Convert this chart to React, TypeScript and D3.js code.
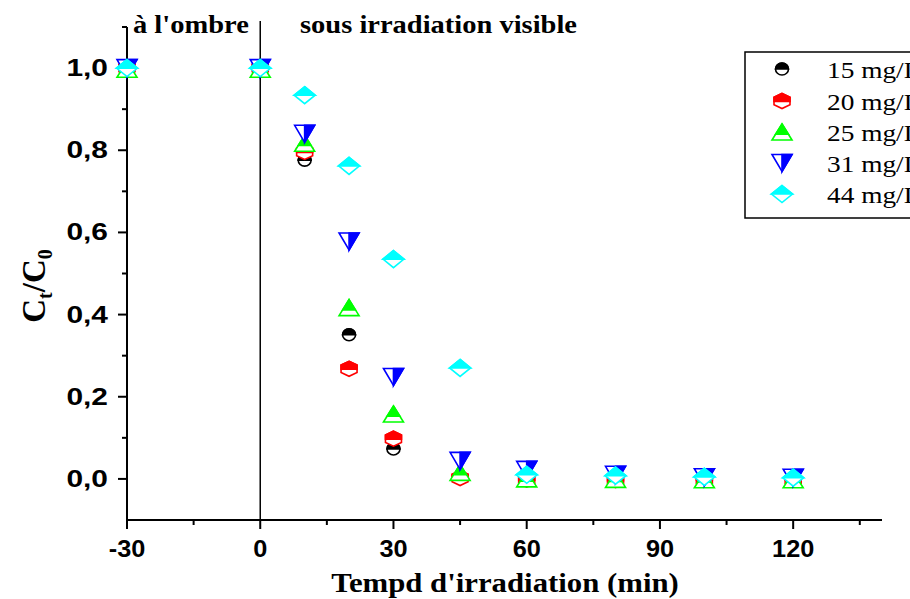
import React from "react";
import * as d3 from "d3";

const times = [-30, 0, 10, 20, 30, 45, 60, 80, 100, 120];
const c15 = [1.0, 1.0, 0.776, 0.351, 0.073, 0.004, 0.0, 0.0, 0.0, 0.0];
const c20 = [1.0, 1.0, 0.796, 0.268, 0.098, 0.002, -0.002, -0.003, -0.002, -0.002];
const c25 = [0.997, 0.997, 0.817, 0.417, 0.158, 0.016, 0.0, -0.001, -0.002, -0.002];
const c31 = [1.0, 1.0, 0.84, 0.578, 0.248, 0.044, 0.022, 0.01, 0.004, 0.003];
const c44 = [1.0, 1.0, 0.934, 0.762, 0.535, 0.27, 0.01, 0.008, 0.005, 0.003];
const seriesNames = ["15 mg/L", "20 mg/L", "25 mg/L", "31 mg/L", "44 mg/L"];
const seriesColors = ["#000000", "#ff0000", "#00ff00", "#0000ff", "#00ffff"];
const seriesShapes = ["circle", "hexagon", "triangleUp", "triangleDown", "diamond"];
const xMajor = [-30, 0, 30, 60, 90, 120];
const xMinor = [-15, 15, 45, 75, 105, 135];
const yMajor = [0, 0.2, 0.4, 0.6, 0.8, 1.0];
const yMinor = [0.1, 0.3, 0.5, 0.7, 0.9, 1.1];

const SX = 1.14;

function Marker({ shape, color, x, y }: { shape: string; color: string; x: number; y: number }) {
  const sw = 1.6;
  if (shape === "circle") {
    const rx = 6.5, ry = 6;
    return (
      <g transform={`translate(${x},${y})`}>
        <ellipse rx={rx} ry={ry} fill="#fff" stroke={color} strokeWidth={sw} />
        <path d={`M${-rx},0 A${rx},${ry} 0 0 1 ${rx},0 Z`} fill={color} stroke={color} strokeWidth={sw} />
      </g>
    );
  }
  if (shape === "hexagon") {
    const w = 16, h = 15;
    const pts = [[0, -h / 2], [w / 2, -h / 4], [w / 2, h / 4], [0, h / 2], [-w / 2, h / 4], [-w / 2, -h / 4]];
    const top = [[-w / 2, 0.5], [-w / 2, -h / 4], [0, -h / 2], [w / 2, -h / 4], [w / 2, 0.5]];
    return (
      <g transform={`translate(${x},${y})`}>
        <polygon points={pts.map((p) => p.join(",")).join(" ")} fill="#fff" stroke={color} strokeWidth={sw} />
        <polygon points={top.map((p) => p.join(",")).join(" ")} fill={color} stroke={color} strokeWidth={sw} />
      </g>
    );
  }
  if (shape === "triangleUp") {
    const w = 20, h = 16;
    const s = h * 0.14;
    const f = (s + h / 2) / h;
    const pts = [[0, -h / 2], [w / 2, h / 2], [-w / 2, h / 2]];
    const top = [[0, -h / 2], [(w / 2) * f, s], [(-w / 2) * f, s]];
    return (
      <g transform={`translate(${x},${y})`}>
        <polygon points={pts.map((p) => p.join(",")).join(" ")} fill="#fff" stroke={color} strokeWidth={sw} />
        <polygon points={top.map((p) => p.join(",")).join(" ")} fill={color} stroke={color} strokeWidth={sw} />
      </g>
    );
  }
  if (shape === "triangleDown") {
    const w = 20, h = 17;
    const pts = [[-w / 2, -h / 2], [w / 2, -h / 2], [0, h / 2]];
    const right = [[0, -h / 2], [w / 2, -h / 2], [0, h / 2]];
    return (
      <g transform={`translate(${x},${y})`}>
        <polygon points={pts.map((p) => p.join(",")).join(" ")} fill="#fff" stroke={color} strokeWidth={sw} />
        <polygon points={right.map((p) => p.join(",")).join(" ")} fill={color} stroke={color} strokeWidth={sw} />
      </g>
    );
  }
  const w = 21, h = 17;
  const pts = [[0, -h / 2], [w / 2, 0], [0, h / 2], [-w / 2, 0]];
  const top = [[0, -h / 2], [w / 2, 0], [-w / 2, 0]];
  return (
    <g transform={`translate(${x},${y})`}>
      <polygon points={pts.map((p) => p.join(",")).join(" ")} fill="#fff" stroke={color} strokeWidth={sw} />
      <polygon points={top.map((p) => p.join(",")).join(" ")} fill={color} stroke={color} strokeWidth={sw} />
    </g>
  );
}

function STxt({ x, y, anchor = "start", size, weight = "normal", family, sx = SX, children }: any) {
  return (
    <g transform={`translate(${x},${y}) scale(${sx},1)`}>
      <text x={0} y={0} textAnchor={anchor} fontSize={size} fontWeight={weight} fontFamily={family}>
        {children}
      </text>
    </g>
  );
}

export default function App() {
  const W = 910, H = 599;
  const x = d3.scaleLinear().domain([-30, 140]).range([127, 882]);
  const y = d3.scaleLinear().domain([-0.1, 1.1]).range([520, 27]);
  const data = [c15, c20, c25, c31, c44];
  const sans = "'Liberation Sans', Arial, sans-serif";
  const serif = "'Liberation Serif', 'Times New Roman', serif";
  const fmt = (v: number) => d3.format(".1f")(v).replace(".", ",");
  const legendY = [69, 101, 132, 163, 194];

  return (
    <svg width={W} height={H} style={{ position: "absolute", left: 0, top: 0, background: "#fff" }}>
      <rect x={0} y={0} width={W} height={H} fill="#fff" />
      <line x1={x(0)} x2={x(0)} y1={21} y2={y(-0.1)} stroke="#000" strokeWidth={1.5} />
      <line x1={x(-30)} x2={x(-30)} y1={y(1.1)} y2={y(-0.1)} stroke="#000" strokeWidth={2} />
      <line x1={x(-30)} x2={x(140)} y1={y(-0.1)} y2={y(-0.1)} stroke="#000" strokeWidth={2} />
      {xMajor.map((t) => (
        <line key={"xm" + t} x1={x(t)} x2={x(t)} y1={y(-0.1)} y2={y(-0.1) + 9} stroke="#000" strokeWidth={2} />
      ))}
      {xMinor.map((t) => (
        <line key={"xn" + t} x1={x(t)} x2={x(t)} y1={y(-0.1)} y2={y(-0.1) + 5} stroke="#000" strokeWidth={2} />
      ))}
      {yMajor.map((v) => (
        <line key={"ym" + v} x1={x(-30) - 9} x2={x(-30)} y1={y(v)} y2={y(v)} stroke="#000" strokeWidth={2} />
      ))}
      {yMinor.map((v) => (
        <line key={"yn" + v} x1={x(-30) - 5} x2={x(-30)} y1={y(v)} y2={y(v)} stroke="#000" strokeWidth={2} />
      ))}
      {xMajor.map((t) => (
        <STxt key={"xl" + t} x={x(t)} y={557} anchor="middle" size={23} weight="bold" family={sans} sx={1.1}>
          {String(t)}
        </STxt>
      ))}
      {yMajor.map((v) => (
        <STxt key={"yl" + v} x={108} y={y(v) + 8} anchor="end" size={23} weight="bold" family={sans} sx={1.3}>
          {fmt(v)}
        </STxt>
      ))}
      <STxt x={505} y={592} anchor="middle" size={27} weight="bold" family={serif}>
        Tempd d'irradiation (min)
      </STxt>
      <g transform={`translate(45,286) rotate(-90)`}>
        <text x={0} y={0} textAnchor="middle" fontSize={33} fontFamily={serif} fontWeight="bold">
          C<tspan fontSize={20} dy={7}>t</tspan>
          <tspan dy={-7}>/C</tspan>
          <tspan fontSize={20} dy={7}>0</tspan>
        </text>
      </g>
      <STxt x={133} y={33} size={25} weight="bold" family={serif}>
        à l'ombre
      </STxt>
      <STxt x={300} y={33} size={25} weight="bold" family={serif}>
        sous irradiation visible
      </STxt>
      {data.map((vals, si) => (
        <g key={"s" + si}>
          {vals.map((v, i) => (
            <Marker key={i} shape={seriesShapes[si]} color={seriesColors[si]} x={x(times[i])} y={y(v)} />
          ))}
        </g>
      ))}
      <rect x={745} y={52} width={200} height={166} fill="#fff" stroke="#000" strokeWidth={1.5} />
      {seriesNames.map((n, i) => (
        <g key={"lg" + i}>
          <Marker shape={seriesShapes[i]} color={seriesColors[i]} x={782} y={legendY[i]} />
          <STxt x={827} y={legendY[i] + 9} size={24} family={serif}>
            {n}
          </STxt>
        </g>
      ))}
    </svg>
  );
}
